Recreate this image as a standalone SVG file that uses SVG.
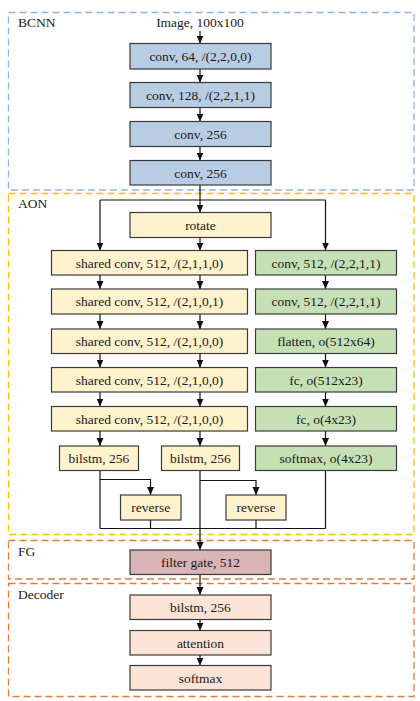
<svg xmlns="http://www.w3.org/2000/svg" width="420" height="701" viewBox="0 0 420 701">
<style>
  .frame{fill:none;stroke-width:1.3;stroke-dasharray:7 4}
  .bcnn{stroke:#8EB4E3}
  .aon{stroke:#FFC000}
  .fgf{stroke:#E07B39}
  .lbl{font-family:"Liberation Serif","Times New Roman",serif;font-size:13.5px;fill:#1a1a1a}
  .t{font-family:"Liberation Serif","Times New Roman",serif;font-size:13.5px;fill:#1a1a1a;text-anchor:middle}
  .box{stroke:#3a3a3a;stroke-width:1.2}
  .blue{fill:#B8CCE4}
  .yel{fill:#FFF2CC}
  .grn{fill:#C5E0B4}
  .fg{fill:#D9B3B5}
  .dec{fill:#FBE4D5}
  .c{fill:none;stroke:#111;stroke-width:1.2}
  .a{marker-end:url(#arr)}
</style>
<defs>
  <marker id="arr" markerUnits="userSpaceOnUse" markerWidth="8" markerHeight="8" refX="8" refY="3.5" orient="auto">
    <path d="M0,0 L8,3.5 L0,7 z" fill="#111"/>
  </marker>
</defs>
<rect x="0" y="0" width="420" height="701" fill="#fff"/>

<g id="frames">
  <rect class="frame bcnn" x="8.5" y="12.5" width="405.5" height="177.5"/>
  <text class="lbl" x="18" y="27">BCNN</text>
  <rect class="frame aon" x="8.5" y="193.5" width="405.5" height="341"/>
  <text class="lbl" x="18" y="208">AON</text>
  <rect class="frame fgf" x="8.5" y="540.5" width="405.5" height="38.5"/>
  <text class="lbl" x="18" y="556">FG</text>
  <rect class="frame fgf" x="8.5" y="583.5" width="405.5" height="113"/>
  <text class="lbl" x="18" y="599">Decoder</text>
</g>

<g id="connectors">
  <path class="c a" d="M200,31 V43.5"/>
  <path class="c a" d="M200,69 V82.5"/>
  <path class="c a" d="M200,107.5 V121.5"/>
  <path class="c a" d="M200,146.5 V160.5"/>
  <path class="c a" d="M200,185 V212.5"/>
  <path class="c" d="M100,200 H325.5"/>
  <path class="c a" d="M100,200 V250.5"/>
  <path class="c a" d="M325.5,200 V250.5"/>
  <path class="c a" d="M200,237.5 V250.5"/>

  <path class="c a" d="M100,275 V289"/>
  <path class="c a" d="M200,275 V289"/>
  <path class="c a" d="M325.5,275 V289"/>
  <path class="c a" d="M100,314 V329"/>
  <path class="c a" d="M200,314 V329"/>
  <path class="c a" d="M325.5,314 V329"/>
  <path class="c a" d="M100,353.5 V367.5"/>
  <path class="c a" d="M200,353.5 V367.5"/>
  <path class="c a" d="M325.5,353.5 V367.5"/>
  <path class="c a" d="M100,392 V406.5"/>
  <path class="c a" d="M200,392 V406.5"/>
  <path class="c a" d="M325.5,392 V406.5"/>
  <path class="c a" d="M100,431 V446"/>
  <path class="c a" d="M200,431 V446"/>
  <path class="c a" d="M325.5,431 V446"/>

  <path class="c" d="M100,470.5 V528.5"/>
  <path class="c a" d="M100,479.5 H150.5 V495"/>
  <path class="c" d="M150.5,520 V528.5"/>
  <path class="c a" d="M200,470.5 V550"/>
  <path class="c a" d="M200,480.5 H256 V495"/>
  <path class="c" d="M256,520 V528.5"/>
  <path class="c" d="M325.5,470.5 V528.5"/>
  <path class="c" d="M100,528.5 H325.5"/>

  <path class="c a" d="M200,574.5 V595"/>
  <path class="c a" d="M200,619.5 V630.5"/>
  <path class="c a" d="M200,655 V665.5"/>
</g>

<g id="input"><text class="t" x="200" y="27">Image, 100x100</text></g>

<g id="bcnn1"><rect class="box blue" x="130" y="43.5" width="141" height="25.5"/><text class="t" x="200.5" y="61">conv, 64, /(2,2,0,0)</text></g>
<g id="bcnn2"><rect class="box blue" x="130" y="82.5" width="141" height="25"/><text class="t" x="200.5" y="99.5">conv, 128, /(2,2,1,1)</text></g>
<g id="bcnn3"><rect class="box blue" x="130" y="121.5" width="141" height="25"/><text class="t" x="200.5" y="138.5">conv, 256</text></g>
<g id="bcnn4"><rect class="box blue" x="130" y="160.5" width="141" height="24.5"/><text class="t" x="200.5" y="177.5">conv, 256</text></g>

<g id="rotate"><rect class="box yel" x="130" y="212.5" width="141" height="25"/><text class="t" x="200.5" y="229.5">rotate</text></g>

<g id="sc1"><rect class="box yel" x="51.5" y="250.5" width="196" height="24.5"/><text class="t" x="149.5" y="267.5">shared conv, 512, /(2,1,1,0)</text></g>
<g id="sc2"><rect class="box yel" x="51.5" y="289" width="196" height="25"/><text class="t" x="149.5" y="306">shared conv, 512, /(2,1,0,1)</text></g>
<g id="sc3"><rect class="box yel" x="51.5" y="329" width="196" height="24.5"/><text class="t" x="149.5" y="346">shared conv, 512, /(2,1,0,0)</text></g>
<g id="sc4"><rect class="box yel" x="51.5" y="367.5" width="196" height="24.5"/><text class="t" x="149.5" y="384.5">shared conv, 512, /(2,1,0,0)</text></g>
<g id="sc5"><rect class="box yel" x="51.5" y="406.5" width="196" height="24.5"/><text class="t" x="149.5" y="423.5">shared conv, 512, /(2,1,0,0)</text></g>

<g id="g1"><rect class="box grn" x="255.5" y="250.5" width="141" height="24.5"/><text class="t" x="326" y="267.5">conv, 512, /(2,2,1,1)</text></g>
<g id="g2"><rect class="box grn" x="255.5" y="289" width="141" height="25"/><text class="t" x="326" y="306">conv, 512, /(2,2,1,1)</text></g>
<g id="g3"><rect class="box grn" x="255.5" y="329" width="141" height="24.5"/><text class="t" x="326" y="346">flatten, o(512x64)</text></g>
<g id="g4"><rect class="box grn" x="255.5" y="367.5" width="141" height="24.5"/><text class="t" x="326" y="384.5">fc, o(512x23)</text></g>
<g id="g5"><rect class="box grn" x="255.5" y="406.5" width="141" height="24.5"/><text class="t" x="326" y="423.5">fc, o(4x23)</text></g>
<g id="g6"><rect class="box grn" x="255.5" y="446" width="141" height="24.5"/><text class="t" x="326" y="463">softmax, o(4x23)</text></g>

<g id="bilstm1"><rect class="box yel" x="59.5" y="446" width="79" height="24.5"/><text class="t" x="99" y="463">bilstm, 256</text></g>
<g id="bilstm2"><rect class="box yel" x="161.5" y="446" width="78" height="24.5"/><text class="t" x="200.5" y="463">bilstm, 256</text></g>
<g id="reverse1"><rect class="box yel" x="120.5" y="495" width="60.5" height="25"/><text class="t" x="150.8" y="512">reverse</text></g>
<g id="reverse2"><rect class="box yel" x="226" y="495" width="60" height="25"/><text class="t" x="256" y="512">reverse</text></g>

<g id="filtergate"><rect class="box fg" x="130" y="550" width="141" height="24.5"/><text class="t" x="200.5" y="567">filter gate, 512</text></g>

<g id="dec1"><rect class="box dec" x="130" y="595" width="141" height="24.5"/><text class="t" x="200.5" y="612">bilstm, 256</text></g>
<g id="dec2"><rect class="box dec" x="130" y="630.5" width="141" height="24.5"/><text class="t" x="200.5" y="647.5">attention</text></g>
<g id="dec3"><rect class="box dec" x="130" y="665.5" width="141" height="24.5"/><text class="t" x="200.5" y="682.5">softmax</text></g>
</svg>
